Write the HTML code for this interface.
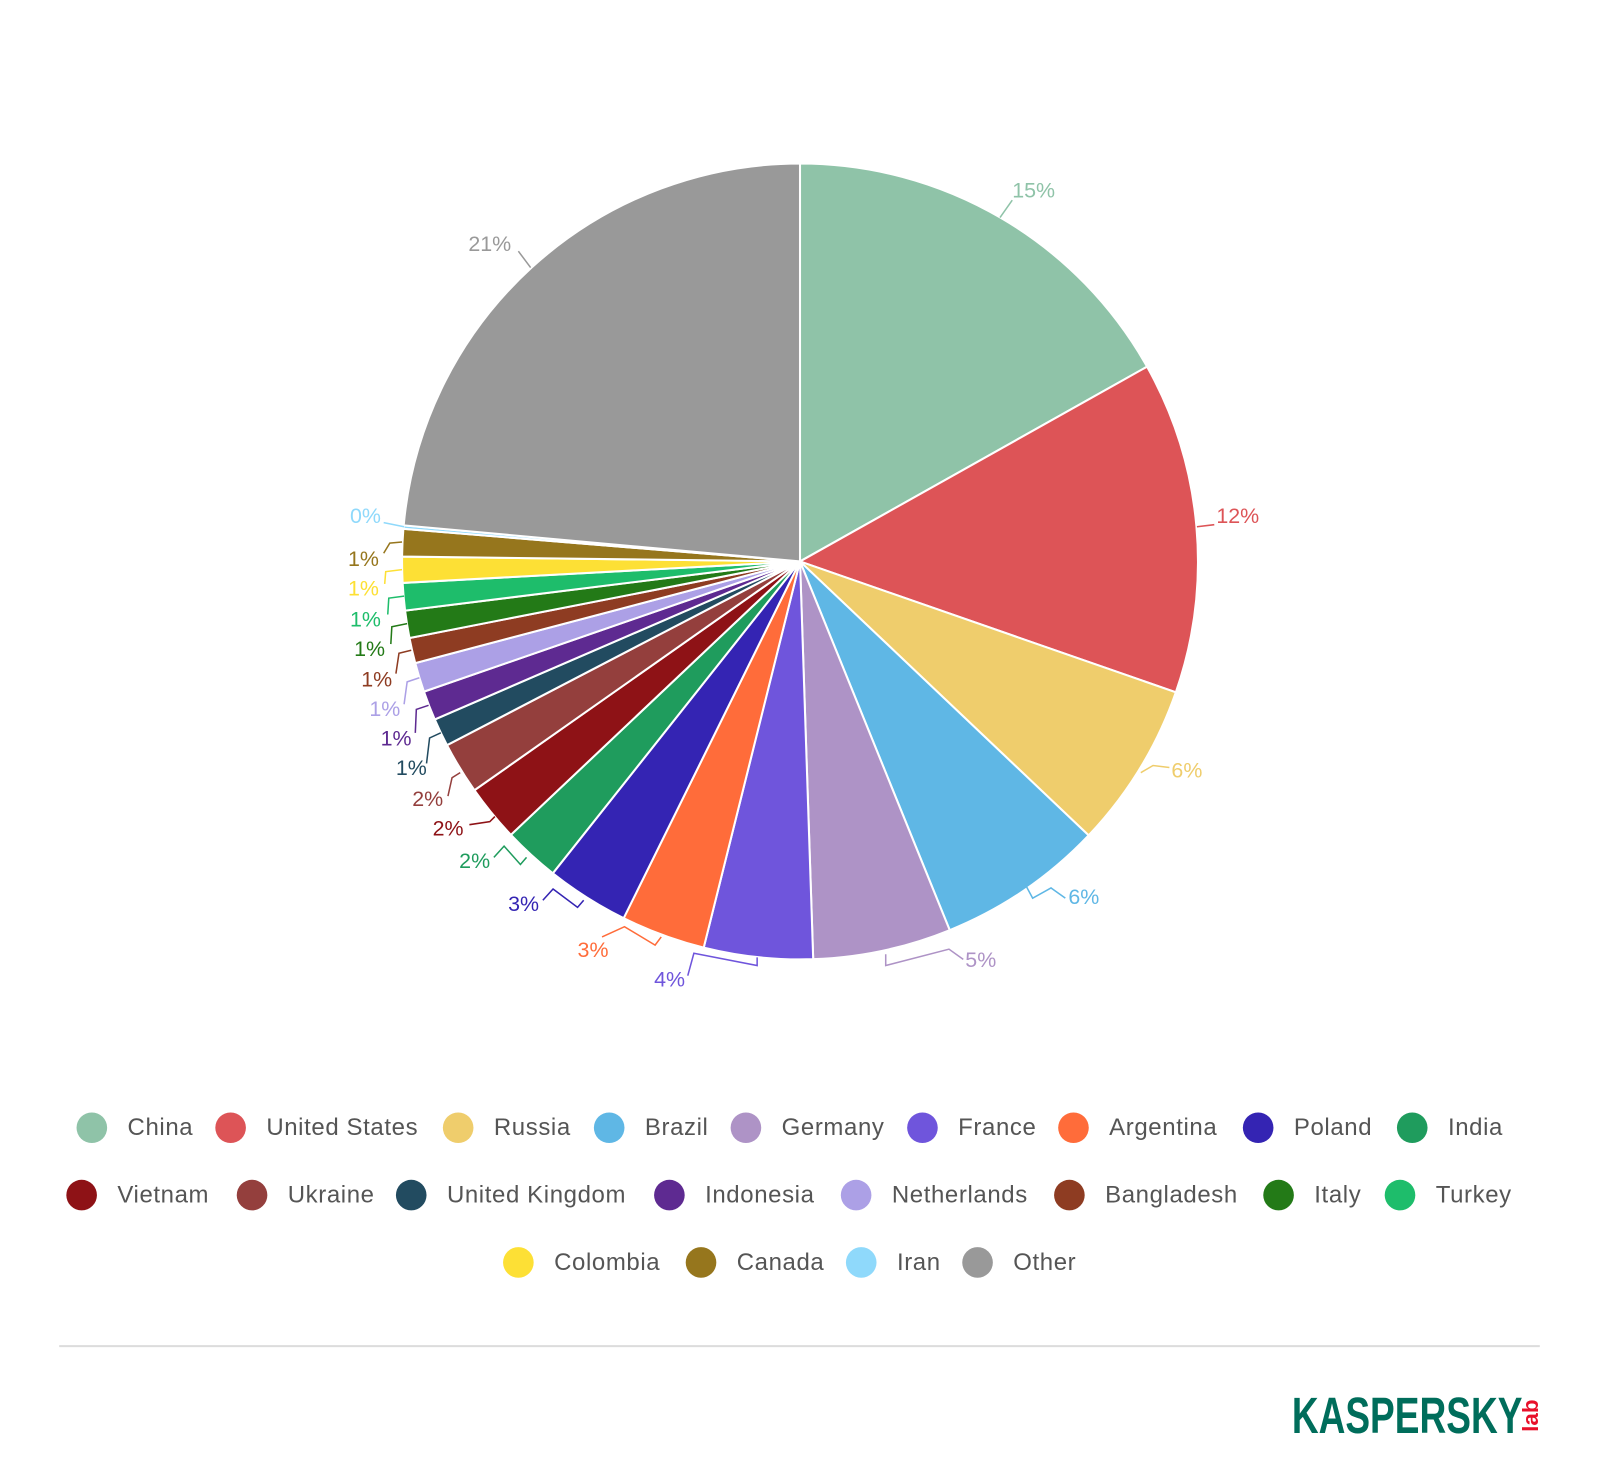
<!DOCTYPE html>
<html><head><meta charset="utf-8"><style>
html,body{margin:0;padding:0;background:#fff;}
svg{display:block;}
text{font-family:"Liberation Sans",sans-serif;}
</style></head><body>
<svg id="s" width="1600" height="1480" viewBox="0 0 1568 1450" xmlns="http://www.w3.org/2000/svg">
<g id="pie"></g>
<g id="lab" font-size="21" font-weight="500" dominant-baseline="middle"></g>
<g id="leg" font-size="23.5" fill="#555" dominant-baseline="middle" letter-spacing="0.6"></g>
<line x1="58" y1="1319" x2="1509" y2="1319" stroke="#dcdcdc" stroke-width="2"/>
<text x="1266" y="1404" font-size="50" font-weight="bold" fill="#006d5b" textLength="226" lengthAdjust="spacingAndGlyphs" style="font-family:'Liberation Sans',sans-serif">KASPERSKY</text>
<text transform="translate(1507,1403) rotate(-90)" font-size="22" font-weight="bold" fill="#e8102a">lab</text>
</svg>
<script>
var cx=784,cy=550,r=390;
var b=[0,60.7,109.2,133.5,157.9,178.1,194.0,206.3,218.4,226.6,234.9,242.5,246.6,250.9,255.2,258.9,262.9,266.9,270.7,274.7,275.2,360];
var c=["#8fc3a8","#dd5457","#efcd6c","#5fb7e5","#ae93c6","#6f55dc","#ff6c3a","#3424b3","#1f9c5d","#8e1216","#943f3d","#224b60","#5e2a91","#aca0e6","#8e3c22","#237a17","#1ebd6b","#fde035","#96761d","#8fd9fb","#999999"];
function P(a,rr){a=a*Math.PI/180;return [cx+rr*Math.sin(a),cy-rr*Math.cos(a)];}
var h="";
for(var i=0;i<c.length;i++){var p=P(b[i],r),q=P(b[i+1],r),l=(b[i+1]-b[i])>180?1:0;
h+='<path d="M'+cx+','+cy+'L'+p[0]+','+p[1]+'A'+r+','+r+' 0 '+l+' 1 '+q[0]+','+q[1]+'Z" fill="'+c[i]+'" stroke="#fff" stroke-width="2"/>';}
document.getElementById('pie').innerHTML=h;
var L=[["15%",992,188,0,"980,213 992,196"],["12%",1192,507,1,"1173,516 1190,514"],["6%",1148,756,2,"1118,757 1130,750 1146,752"],["6%",1047,880,3,"1005,867 1012,880 1030,870 1044,880"],["5%",946,942,4,"868,935 868,946 930,930 944,940"],["4%",641,961,5,"742,938 742,946 680,934 674,956"],["3%",566,932,6,"648,918 642,926 612,908 590,918"],["3%",498,887,7,"572,882 566,889 542,871 532,882"],["2%",450,845,8,"516,840 510,847 494,829 484,840"],["2%",424,813,9,"485,800 480,805 460,808"],["2%",404,784,10,"451,757 443,762 439,780"],["1%",388,754,11,"432,718 421,723 418,748"],["1%",373,725,12,"420,691 408,695 407,718"],["1%",362,696,13,"411,664 399,668 396,690"],["1%",354,667,14,"403,637 391,640 388,660"],["1%",347,637,15,"399,611 384,614 383,631"],["1%",343,608,16,"396,584 381,586 380,602"],["1%",341,578,17,"394,558 378,560 377,572"],["1%",341,549,18,"394,531 382,532 376,542"],["0%",343,507,19,"376,512 396,516"],["21%",459,240,20,"508,246 520,262"]];
h="";L.forEach(function(x){h+='<polyline points="'+x[4]+'" fill="none" stroke="'+c[x[3]]+'" stroke-width="1.5"/><text x="'+x[1]+'" y="'+x[2]+'" fill="'+c[x[3]]+'">'+x[0]+'</text>';});
document.getElementById('lab').innerHTML=h;
var G=[[1105,[[90,"China",0],[226,"United States",1],[449,"Russia",2],[597,"Brazil",3],[731,"Germany",4],[904,"France",5],[1052,"Argentina",6],[1233,"Poland",7],[1384,"India",8]]],
[1171,[[80,"Vietnam",9],[247,"Ukraine",10],[403,"United Kingdom",11],[656,"Indonesia",12],[839,"Netherlands",13],[1048,"Bangladesh",14],[1253,"Italy",15],[1372,"Turkey",16]]],
[1237,[[508,"Colombia",17],[687,"Canada",18],[844,"Iran",19],[958,"Other",20]]]];
h="";G.forEach(function(row){row[1].forEach(function(it){h+='<circle cx="'+it[0]+'" cy="'+row[0]+'" r="15" fill="'+c[it[2]]+'"/><text x="'+(it[0]+35)+'" y="'+(row[0]+1)+'">'+it[1]+'</text>';});});
document.getElementById('leg').innerHTML=h;
</script>
</body></html>
